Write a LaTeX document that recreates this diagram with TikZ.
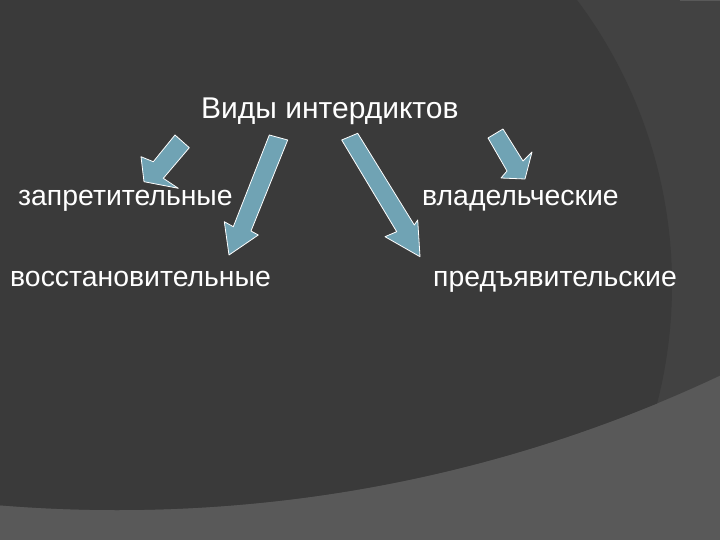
\documentclass[tikz,border=0pt]{standalone}
\usepackage{fontspec}
\setmainfont{Liberation Sans}
\definecolor{bglight}{RGB}{89,89,89}
\definecolor{bgmid}{RGB}{66,66,66}
\definecolor{bgdark}{RGB}{58,58,58}
\definecolor{arrowfill}{RGB}{112,163,180}
\tikzset{
  lbl/.style={anchor=base west, inner sep=0pt, text=white, font=\fontsize{28.4}{33}\selectfont},
  ttl/.style={lbl, font=\fontsize{30}{35}\selectfont},
  blockarrow/.style={fill=arrowfill, draw=white, line width=0.8pt, line join=round}
}
\begin{document}
\begin{tikzpicture}[x=1pt,y=-1pt]
\useasboundingbox (0,0) rectangle (720,540);
% background
\fill[bglight] (0,0) rectangle (720,540);
\begin{scope}
  \clip (0,0) rectangle (720,540);
  \clip (117,-906) circle (1416);
  \fill[bgmid] (0,0) rectangle (720,540);
  \fill[bgdark] (197,285) circle (475);
\end{scope}
\fill[bglight] (680,0) rectangle (720,1.5);
% labels
\node[ttl] (title) at (201,119) {Виды интердиктов};
\node[lbl] (zap) at (18,206) {запретительные};
\node[lbl] (vlad) at (422,206) {владельческие};
\node[lbl] (vos) at (10,286) {восстановительные};
\node[lbl] (pred) at (433,286) {предъявительские};
% block arrows
\draw[blockarrow] (175,135) -- (189.3,147.7) -- (163.3,178.3) -- (178.3,188.3) -- (144,181.7) -- (141,156.7) -- (153.3,161.7) -- cycle;
\draw[blockarrow] (269.3,135) -- (287.7,140) -- (251,231) -- (258.3,235) -- (229,255) -- (224.3,221.7) -- (233.3,226.7) -- cycle;
\draw[blockarrow] (341.7,140) -- (357.7,133.3) -- (414.3,225) -- (417.7,220) -- (420,256.7) -- (385,236.7) -- (396.7,231.7) -- cycle;
\draw[blockarrow] (488,138) -- (503,129) -- (523,161) -- (532,152) -- (525,179) -- (501,178) -- (507,171) -- cycle;
\end{tikzpicture}
\end{document}
